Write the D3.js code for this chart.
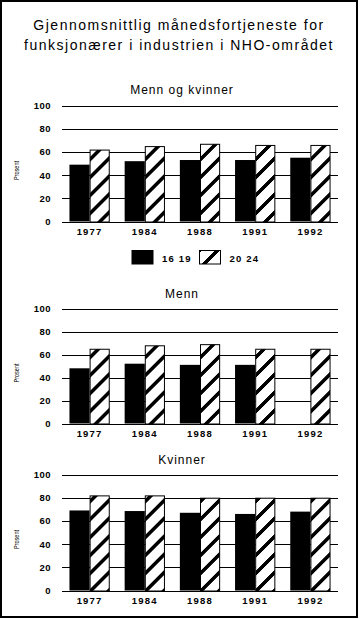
<!DOCTYPE html>
<html><head><meta charset="utf-8">
<script src="https://cdn.jsdelivr.net/npm/d3@7"></script>
<style>body{margin:0;background:#fff}svg{display:block}text{font-family:"Liberation Sans",Arial,sans-serif;fill:#000}</style>
</head><body>
<script>
const years = ["1977","1984","1988","1991","1992"];
const seriesNames = ["16 19","20 24"];
const totalYoung = [49, 52, 53, 53, 55];
const totalOld = [62, 65, 67, 66, 66];
const mennYoung = [48, 52, 51, 51, null];
const mennOld = [65, 68, 69, 65, 65];
const kvinnerYoung = [69, 68.5, 67, 66, 68];
const kvinnerOld = [82, 82, 80, 80, 80];
const yTicks = [0, 20, 40, 60, 80, 100];
const titleLines = ["Gjennomsnittlig månedsfortjeneste for", "funksjonærer i industrien i NHO-området"];
const panelTitles = ["Menn og kvinner", "Menn", "Kvinner"];

const W = 360, H = 619;
const svg = d3.select("body").append("svg").attr("width", W).attr("height", H);
svg.append("rect").attr("width", W).attr("height", H).attr("fill", "#fff");
svg.append("rect").attr("x", 1).attr("y", 1).attr("width", 356).attr("height", 616)
  .attr("fill", "none").attr("stroke", "#000").attr("stroke-width", 2);

const defs = svg.append("defs");
const pat = defs.append("pattern").attr("id", "hatch").attr("patternUnits", "userSpaceOnUse")
  .attr("width", 18).attr("height", 18);
pat.append("rect").attr("width", 18).attr("height", 18).attr("fill", "#fff");
pat.append("path").attr("d", "M-2,20 L20,-2 M-6,6 L6,-6 M12,24 L24,12")
  .attr("stroke", "#000").attr("stroke-width", 3.2).attr("shape-rendering", "crispEdges");

// Title
svg.selectAll("text.title").data(titleLines).join("text")
  .attr("x", 179).attr("y", (d, i) => 30 + i * 20)
  .attr("text-anchor", "middle").attr("font-size", 14).attr("letter-spacing", 1.5)
  .text(d => d);

const x0 = d3.scaleBand().domain(years).range([62, 338]).paddingInner(0.27).paddingOuter(0.135);
const x1 = d3.scaleBand().domain([0, 1]).range([0, x0.bandwidth()]);

const panels = [
  {title: panelTitles[0], young: totalYoung, old: totalOld, top: 105.5, bottom: 221.5, titleY: 94},
  {title: panelTitles[1], young: mennYoung, old: mennOld, top: 308.5, bottom: 423.5, titleY: 298},
  {title: panelTitles[2], young: kvinnerYoung, old: kvinnerOld, top: 474.5, bottom: 590.5, titleY: 464}
];

panels.forEach(p => {
  const g = svg.append("g");
  const y = d3.scaleLinear().domain([0, 100]).range([p.bottom, p.top]);
  g.append("text").attr("x", 182).attr("y", p.titleY).attr("text-anchor", "middle")
    .attr("font-size", 12).attr("letter-spacing", 1).text(p.title);
  // grid
  g.selectAll("line.grid").data(yTicks).join("line")
    .attr("x1", 62).attr("x2", 338).attr("y1", d => Math.round(y(d)) + 0.5).attr("y2", d => Math.round(y(d)) + 0.5)
    .attr("stroke", "#000").attr("stroke-width", 1);
  // y axis labels
  const ya = d3.axisLeft(y).tickValues(yTicks).tickSize(0).tickPadding(0);
  const yg = g.append("g").attr("transform", "translate(51,0)").call(ya);
  yg.select(".domain").remove();
  yg.selectAll("text").attr("font-size", 9.5).attr("font-family", "Liberation Sans, Arial, sans-serif")
    .attr("font-weight", "bold").attr("letter-spacing", 0.5).attr("fill", "#000");
  // y title
  const cy = (p.top + p.bottom) / 2 + 7;
  g.append("text").attr("transform", `translate(19,${cy}) rotate(-90)`).attr("text-anchor", "middle")
    .attr("font-size", 7.5).attr("textLength", 19).attr("lengthAdjust", "spacingAndGlyphs").text("Prosent");
  // bars
  const data = years.map((yr, i) => ({yr, vals: [p.young[i], p.old[i]]}));
  const grp = g.selectAll("g.grp").data(data).join("g").attr("transform", d => `translate(${x0(d.yr)},0)`);
  grp.selectAll("rect").data(d => d.vals.map((v, k) => ({v, k})).filter(e => e.v != null)).join("rect")
    .attr("x", e => x1(e.k) + (e.k === 1 ? 0.5 : 0))
    .attr("width", e => x1.bandwidth() - (e.k === 1 ? 1 : 0))
    .attr("y", e => y(e.v) + (e.k === 1 ? 0.5 : 0))
    .attr("height", e => y(0) - y(e.v))
    .attr("fill", e => e.k === 0 ? "#000" : "url(#hatch)")
    .attr("stroke", e => e.k === 1 ? "#000" : "none").attr("stroke-width", 1);
  // x axis labels
  const xa = d3.axisBottom(x0).tickSize(0).tickPadding(0);
  const xg = g.append("g").attr("transform", `translate(0,${p.bottom + 5})`).call(xa);
  xg.select(".domain").remove();
  xg.selectAll("text").attr("font-size", 9.5).attr("font-family", "Liberation Sans, Arial, sans-serif")
    .attr("font-weight", "bold").attr("letter-spacing", 1.2).attr("dy", "0.9em").attr("fill", "#000");
});

// legend
const leg = svg.append("g");
const legItems = [{name: seriesNames[0], x: 132, fill: "#000"}, {name: seriesNames[1], x: 199.5, fill: "url(#hatch)"}];
leg.selectAll("rect").data(legItems).join("rect")
  .attr("x", d => d.x).attr("y", 250.5).attr("width", 21).attr("height", 13.5)
  .attr("fill", d => d.fill).attr("stroke", "#000").attr("stroke-width", 1);
leg.selectAll("text").data(legItems).join("text")
  .attr("x", d => d.x + 30).attr("y", 262).attr("font-size", 9.5).attr("font-weight", "bold")
  .attr("letter-spacing", 1.2).text(d => d.name);
</script>
</body></html>
